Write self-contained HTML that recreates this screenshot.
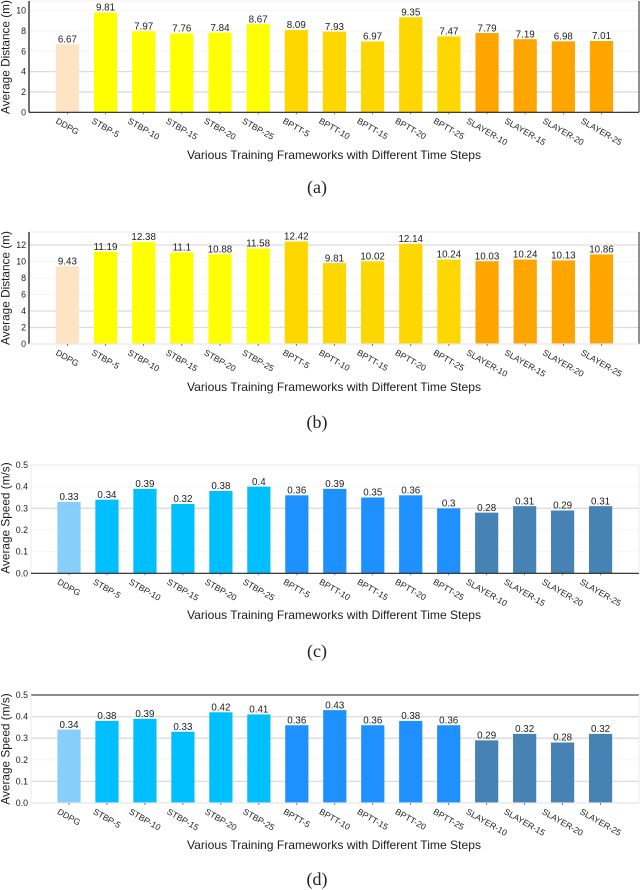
<!DOCTYPE html>
<html lang="en">
<head>
<meta charset="utf-8">
<title>Training Frameworks Bar Charts</title>
<style>
html,body{margin:0;padding:0;background:#fff;}
svg{display:block;filter:blur(0.3px);}
text{font-family:"Liberation Sans",sans-serif;fill:#1c1c1c;}
.caption{font-family:"Liberation Serif",serif;font-size:18px;fill:#222;}
</style>
</head>
<body>
<svg id="figure" width="640" height="890" viewBox="0 0 640 890" xmlns="http://www.w3.org/2000/svg">
  <text class="caption" x="317" y="193" text-anchor="middle">(a)</text>
  <text class="caption" x="317" y="428" text-anchor="middle">(b)</text>
  <text class="caption" x="317" y="657" text-anchor="middle">(c)</text>
  <text class="caption" x="317" y="885" text-anchor="middle">(d)</text>
</svg>
<script>
const categories = ["DDPG","STBP-5","STBP-10","STBP-15","STBP-20","STBP-25","BPTT-5","BPTT-10","BPTT-15","BPTT-20","BPTT-25","SLAYER-10","SLAYER-15","SLAYER-20","SLAYER-25"];
const groups = ["ddpg","stbp","stbp","stbp","stbp","stbp","bptt","bptt","bptt","bptt","bptt","slayer","slayer","slayer","slayer"];
const distanceA = [6.67,9.81,7.97,7.76,7.84,8.67,8.09,7.93,6.97,9.35,7.47,7.79,7.19,6.98,7.01];
const distanceB = [9.43,11.19,12.38,11.1,10.88,11.58,12.42,9.81,10.02,12.14,10.24,10.03,10.24,10.13,10.86];
const speedC = [0.33,0.34,0.39,0.32,0.38,0.4,0.36,0.39,0.35,0.36,0.3,0.28,0.31,0.29,0.31];
const speedD = [0.34,0.38,0.39,0.33,0.42,0.41,0.36,0.43,0.36,0.38,0.36,0.29,0.32,0.28,0.32];
const ticksDistanceA = ["0","2","4","6","8","10"];
const ticksDistanceB = ["0","2","4","6","8","10","12"];
const ticksSpeed = ["0.0","0.1","0.2","0.3","0.4","0.5"];
const xTitle = "Various Training Frameworks with Different Time Steps";
const yTitleDistance = "Average Distance (m)";
const yTitleSpeed = "Average Speed (m/s)";

const warm = {ddpg:"#FFE4C4",stbp:"#FFFF00",bptt:"#FFD700",slayer:"#FFA500"};
const cool = {ddpg:"#87CEFA",stbp:"#00BFFF",bptt:"#1E90FF",slayer:"#4682B4"};

const panels = [
  {id:"a",values:distanceA,ticks:ticksDistanceA,yTitle:yTitleDistance,colors:warm,x0:67.4,dx:38.15,y0:112.3,scale:10.17,left:29,right:639,top:1,
   titleY:159,yTitleY:57,strong:["2","4"],faint:["6","8","10"],leftC:"#222",bottomC:"#222",rightC:"#222",topC:"#f0f0f0"},
  {id:"b",values:distanceB,ticks:ticksDistanceB,yTitle:yTitleDistance,colors:warm,x0:67.4,dx:38.15,y0:344,scale:8.25,left:29,right:639,top:232,
   titleY:391,yTitleY:288,strong:["2","4","12"],faint:["6","8","10"],leftC:"#222",bottomC:"#e8e8e8",rightC:"#222",topC:"#e8e8e8"},
  {id:"c",values:speedC,ticks:ticksSpeed,yTitle:yTitleSpeed,colors:cool,x0:69,dx:37.97,y0:573.3,scale:216.6,left:31,right:639,top:465,
   titleY:619,yTitleY:518,strong:["0.3"],faint:["0.1","0.2","0.4"],leftC:"#e8e8e8",bottomC:"#222",rightC:"#e8e8e8",topC:"#e8e8e8"},
  {id:"d",values:speedD,ticks:ticksSpeed,yTitle:yTitleSpeed,colors:cool,x0:69,dx:37.97,y0:803,scale:216,left:31,right:639,top:695,
   titleY:849,yTitleY:749,strong:["0.1","0.3","0.4"],faint:["0.2"],leftC:"#e8e8e8",bottomC:"#e8e8e8",rightC:"#e8e8e8",topC:"#666"}
];

const NS = "http://www.w3.org/2000/svg";
const figure = document.getElementById("figure");

function make(parent, tag, attrs, content) {
  const node = document.createElementNS(NS, tag);
  for (const key in attrs) node.setAttribute(key, attrs[key]);
  if (content !== undefined) node.textContent = content;
  parent.appendChild(node);
  return node;
}

function drawPanel(p) {
  const xAxis = i => p.x0 + i * p.dx;
  const yAxis = v => p.y0 - v * p.scale;
  const g = make(figure, "g", {});
  
  

  p.ticks.forEach(tick => {
    const value = parseFloat(tick);
    const py = yAxis(value);
    if (p.strong.includes(tick) || p.faint.includes(tick)) {
      const isStrong = p.strong.includes(tick);
      const grid = make(g, "line", {x1:p.left,x2:p.right,y1:py,y2:py,stroke:isStrong?"#dcdcdc":"#f6f6f6","stroke-width":isStrong?1.3:1});
      
      
    }
    const label = make(g, "text", {x:p.left-3,y:py+3,"text-anchor":"end","font-size":8.8}, tick);
    
    
  });

  p.values.forEach((value, i) => {
    const cx = xAxis(i);
    const top = yAxis(value);
    const bar = make(g, "rect", {x:cx-11.6,y:top,width:23.2,height:p.y0-top,fill:p.colors[groups[i]]});
    
    
    const val = make(g, "text", {x:cx,y:top-1.8,"text-anchor":"middle","font-size":9.8}, String(value));
    
    
  });

  const spines = [
    ["top-spine",p.left,p.top,p.right,p.top,p.topC,p.topC==="#666"?1.6:1],
    ["right-spine",p.right,p.top,p.right,p.y0,p.rightC,1],
    ["left-spine",p.left,p.top,p.left,p.y0,p.leftC,p.leftC==="#222"?1.3:1],
    ["bottom-spine",p.left,p.y0,p.right,p.y0,p.bottomC,1.2]
  ];
  spines.forEach(s => {
    const spine = make(g, "line", {x1:s[1],y1:s[2],x2:s[3],y2:s[4],stroke:s[5],"stroke-width":s[6]});
    
    
  });

  categories.forEach((name, i) => {
    const cx = xAxis(i);
    const tickMark = make(g, "line", {x1:cx,x2:cx,y1:p.y0,y2:p.y0+2,stroke:"#444","stroke-width":0.7});
    
    
    const label = make(g, "text", {x:cx,y:p.y0,"text-anchor":"middle","dominant-baseline":"central","font-size":8.6}, name);
    
    
    const w = label.getComputedTextLength();
    const cy = p.y0 + 4 + (w * 0.5 + 8.6 * 0.87) / 2;
    label.setAttribute("y", cy);
    label.setAttribute("transform", "rotate(30 " + cx + " " + cy + ")");
  });

  const xt = make(g, "text", {x:334,y:p.titleY,"text-anchor":"middle","font-size":11.7,textLength:294,lengthAdjust:"spacingAndGlyphs"}, xTitle);
  
  

  const yt = make(g, "text", {x:0,y:0,"text-anchor":"middle","font-size":11.8,transform:"translate(9.5 " + p.yTitleY + ") rotate(-90)"}, p.yTitle);
  
  
}

panels.forEach(drawPanel);
</script>
</body>
</html>
